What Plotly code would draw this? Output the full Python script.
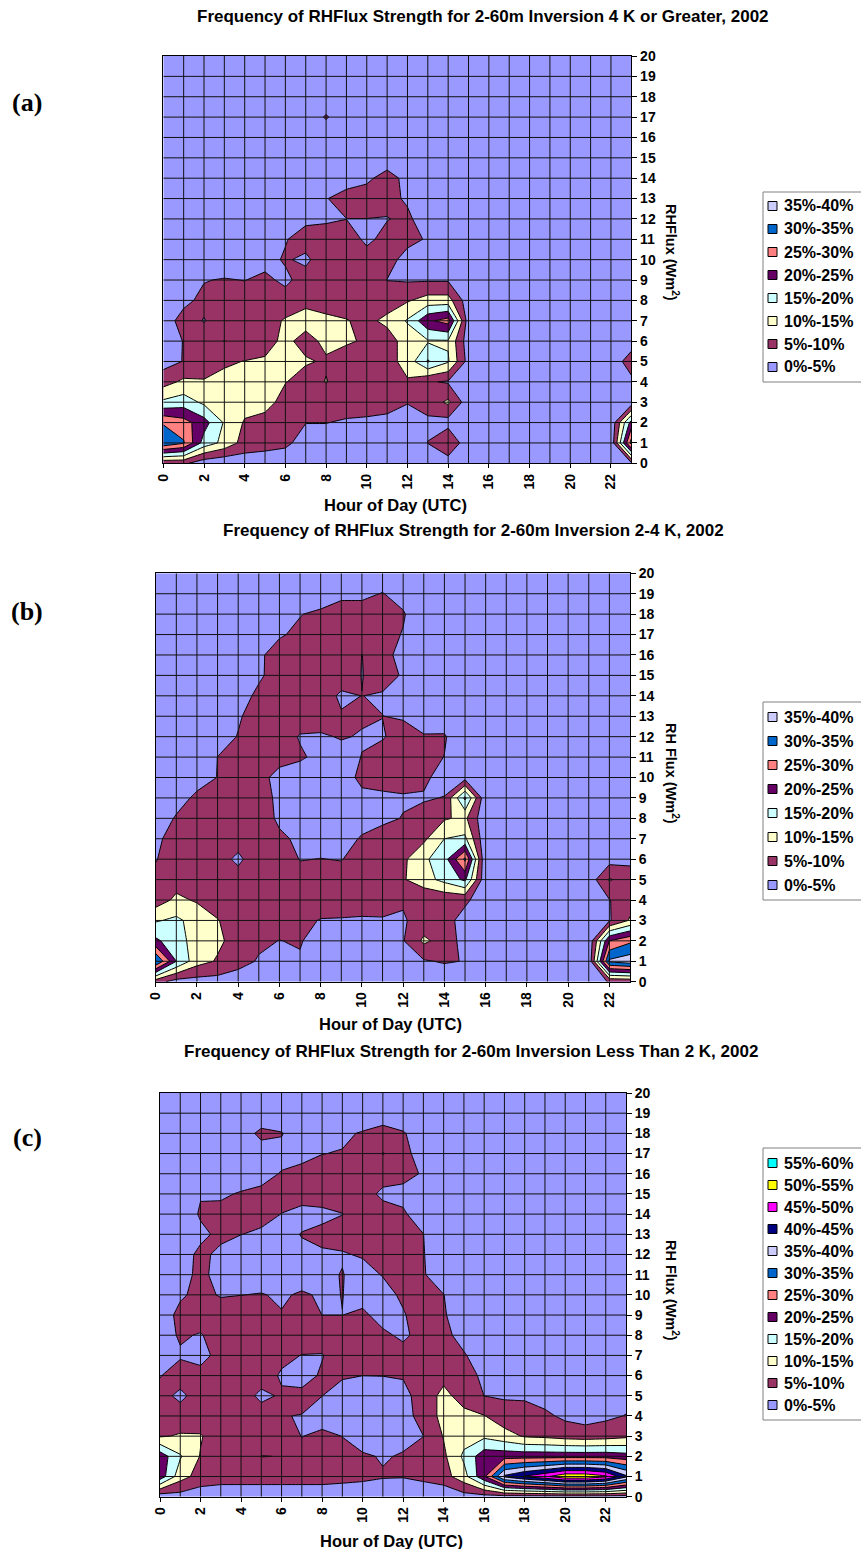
import plotly.graph_objects as go

W, H = 861, 1549

# ---------------- data ----------------
HOURS = [0, 1, 2, 3, 4, 5, 6, 7, 8, 9, 10, 11, 12, 13, 14, 15, 16, 17, 18, 19, 20, 21, 22, 23]
FLUX = [0, 1, 2, 3, 4, 5, 6, 7, 8, 9, 10, 11, 12, 13, 14, 15, 16, 17, 18, 19, 20]
X_TICKS = [0, 2, 4, 6, 8, 10, 12, 14, 16, 18, 20, 22]
Y_TICKS = [0, 1, 2, 3, 4, 5, 6, 7, 8, 9, 10, 11, 12, 13, 14, 15, 16, 17, 18, 19, 20]

BAND_LABELS = ["0%-5%", "5%-10%", "10%-15%", "15%-20%", "20%-25%", "25%-30%",
               "30%-35%", "35%-40%", "40%-45%", "45%-50%", "50%-55%", "55%-60%"]
BAND_COLORS = ["#9999FF", "#993366", "#FFFFCC", "#CCFFFF", "#660066", "#FF8080",
               "#0066CC", "#CCCCFF", "#000080", "#FF00FF", "#FFFF00", "#00FFFF"]
LEVEL_STEP = 5

# Panel (a): frequency (%) per flux row (0..20), per hour (0..23)
Z_A = [
    [6, 6, 2, 1, 2, 2, 2, 1, 1, 1, 1, 1, 1, 1, 2, 1, 1, 1, 1, 1, 1, 1, 1, 4],
    [34, 30.5, 18, 13.5, 8, 7, 6, 3, 3, 2, 2, 2, 2, 5.1, 10.2, 1, 1, 1, 1, 1, 1, 1, 1, 32],
    [29.5, 27, 22, 14.5, 9.5, 8, 7, 5.1, 5.1, 4.5, 4, 3.5, 3, 4, 3, 1, 1, 1, 1, 1, 1, 1, 1, 22],
    [16, 17.5, 14, 12, 12, 12, 8, 7, 7, 7, 7.5, 7, 5.2, 7, 11, 2, 1, 1, 1, 1, 1, 1, 1, 2],
    [8, 11, 10.3, 11, 12, 12, 10.2, 8, 10.2, 8, 8, 8, 9.5, 5.5, 4.5, 3.5, 1, 1, 1, 1, 1, 1, 1, 4],
    [3, 5.2, 8, 9.5, 10.1, 10.5, 12, 10.5, 9.5, 8, 8, 8, 12, 20.5, 15.5, 3, 1, 1, 1, 1, 1, 1, 2.5, 7],
    [2, 5.2, 7, 4.9, 7.5, 8.5, 11, 8.5, 11, 10.5, 9.5, 8, 12, 14.5, 14.5, 2, 1, 1, 1, 1, 1, 1, 1, 3],
    [3, 6.5, 4.8, 7, 7, 8, 10.5, 11.5, 11, 10.2, 9, 11, 15.5, 24, 27, 2, 1, 1, 1, 1, 1, 1, 1, 1],
    [2, 4, 6, 7, 7, 7, 7, 9, 8, 8, 8, 8, 9.5, 12, 12, 2, 1, 1, 1, 1, 1, 1, 1, 1],
    [1, 3, 4.8, 5.3, 4.9, 6, 4, 7, 8, 8, 8, 4.9, 4.5, 4.5, 4.5, 1, 1, 1, 1, 1, 1, 1, 1, 1],
    [1, 1, 1, 2, 2, 3.5, 5.5, 4, 8, 8, 7, 7, 3, 2, 1, 1, 1, 1, 1, 1, 1, 1, 1, 1],
    [1, 1, 1, 1, 1, 2, 4.7, 7, 6, 7.5, 4, 6.5, 6.5, 4.5, 1, 1, 1, 1, 1, 1, 1, 1, 1, 1],
    [1, 1, 1, 1, 1, 1, 2, 4, 4.7, 4.95, 4.95, 4.8, 6, 2, 1, 1, 1, 1, 1, 1, 1, 1, 1, 1],
    [1, 1, 1, 1, 1, 1, 1, 2, 4.7, 7.5, 7.5, 6.5, 4.3, 1, 1, 1, 1, 1, 1, 1, 1, 1, 1, 1],
    [1, 1, 1, 1, 1, 1, 1, 1, 1, 2, 4, 7, 3.5, 1, 1, 1, 1, 1, 1, 1, 1, 1, 1, 1],
    [1, 1, 1, 1, 1, 1, 1, 1, 1, 1, 1, 2, 1, 1, 1, 1, 1, 1, 1, 1, 1, 1, 1, 1],
    [1, 1, 1, 1, 1, 1, 1, 1, 1, 1, 1, 1, 1, 1, 1, 1, 1, 1, 1, 1, 1, 1, 1, 1],
    [1, 1, 1, 1, 1, 1, 1, 1, 5.6, 1, 1, 1, 1, 1, 1, 1, 1, 1, 1, 1, 1, 1, 1, 1],
    [1, 1, 1, 1, 1, 1, 1, 1, 1, 1, 1, 1, 1, 1, 1, 1, 1, 1, 1, 1, 1, 1, 1, 1],
    [1, 1, 1, 1, 1, 1, 1, 1, 1, 1, 1, 1, 1, 1, 1, 1, 1, 1, 1, 1, 1, 1, 1, 1],
    [1, 1, 1, 1, 1, 1, 1, 1, 1, 1, 1, 1, 1, 1, 1, 1, 1, 1, 1, 1, 1, 1, 1, 1],
]

# Panel (b)
Z_B = [
    [7, 3, 3, 3, 2, 1, 1, 1, 1, 1, 1, 1, 1, 1, 1, 1, 1, 1, 1, 1, 1, 1, 5.5, 6],
    [35.5, 20, 12, 9.5, 7, 4.5, 3, 4.3, 1, 1, 1, 1, 2, 4.5, 5.5, 4.8, 1, 1, 1, 1, 1, 1, 36, 38],
    [21, 17, 13, 11, 8, 6, 4.9, 5.5, 2, 2, 2, 2, 4.7, 11, 8, 3, 1, 1, 1, 1, 1, 1, 25, 29],
    [14.5, 16, 13, 10.2, 8, 7, 7, 6, 4.8, 4.7, 4.5, 4.6, 4.5, 7, 7, 3, 1, 1, 1, 1, 1, 1, 4.5, 10.5],
    [7.5, 11, 9.5, 8, 8, 8, 8, 7, 7, 7, 7, 7, 5.5, 5.5, 6, 6, 2, 1, 1, 1, 1, 1, 4.8, 8],
    [6, 8, 8, 4.9, 7, 8, 8, 7, 7, 7, 7, 7, 9.5, 13, 16.5, 21, 1, 1, 1, 1, 1, 2, 10.5, 7],
    [4.8, 7, 8, 7, 4, 8, 8, 4.8, 5.1, 4.8, 7, 8, 9, 14, 18, 31, 0, 1, 1, 1, 1, 1, 3, 4],
    [4, 7, 7, 7, 7, 8, 6, 4, 3, 3, 5.5, 7, 8, 9, 15, 16, 1, 1, 1, 1, 1, 1, 1, 1],
    [2, 5.5, 7, 7, 7, 8, 4, 3, 2, 2, 3, 4, 5.2, 7, 9.5, 11, 1, 1, 1, 1, 1, 1, 1, 1],
    [1, 3, 6, 7, 7, 7, 4, 2, 2, 2, 4, 4, 4.5, 4.5, 5.2, 21, 1, 1, 1, 1, 1, 1, 1, 1],
    [1, 1, 3, 5.1, 7, 6, 4, 3, 3, 3, 6, 7, 7, 6, 3, 3, 1, 1, 1, 1, 1, 1, 1, 1],
    [1, 1, 1, 5.05, 7, 7, 6, 5.5, 4, 3.5, 5.1, 7, 7, 7, 4.9, 1, 1, 1, 1, 1, 1, 1, 1, 1],
    [1, 1, 1, 3, 5.2, 7, 7, 4.7, 4.5, 5.3, 4.7, 4.6, 7, 5.3, 5.5, 1, 1, 1, 1, 1, 1, 1, 1, 1],
    [1, 1, 1, 1, 4.5, 7, 7, 7, 7, 5.5, 5.5, 5.05, 4.5, 3, 2, 1, 1, 1, 1, 1, 1, 1, 1, 1],
    [1, 1, 1, 1, 3, 6, 7, 7, 8, 4, 5.05, 4.5, 2, 1, 1, 1, 1, 1, 1, 1, 1, 1, 1, 1],
    [1, 1, 1, 1, 1, 4.3, 7, 7, 8, 8, 4.85, 7, 4.5, 1, 1, 1, 1, 1, 1, 1, 1, 1, 1, 1],
    [1, 1, 1, 1, 1, 4.2, 7, 7, 8, 8, 4.95, 7, 3, 1, 1, 1, 1, 1, 1, 1, 1, 1, 1, 1],
    [1, 1, 1, 1, 1, 2, 4.5, 6, 4.95, 8, 7, 7, 4.7, 1, 1, 1, 1, 1, 1, 1, 1, 1, 1, 1],
    [1, 1, 1, 1, 1, 1, 2, 4.8, 6, 7, 7, 7, 5.5, 1, 1, 1, 1, 1, 1, 1, 1, 1, 1, 1],
    [1, 1, 1, 1, 1, 1, 1, 1, 2, 4, 4, 5.2, 3, 1, 1, 1, 1, 1, 1, 1, 1, 1, 1, 1],
    [1, 1, 1, 1, 1, 1, 1, 1, 1, 1, 1, 2, 1, 1, 1, 1, 1, 1, 1, 1, 1, 1, 1, 1],
]

# Panel (c)
Z_C = [
    [2, 3, 2, 2, 2, 2, 2, 2, 2, 2, 2, 2, 2, 2, 1, 3, 3, 3, 3, 3, 3, 3, 3, 3],
    [23, 12, 8, 7, 7, 7, 7, 7, 7, 6.5, 6, 5.3, 5.2, 6, 8, 13, 24, 41, 45.5, 49, 54, 54, 51, 41],
    [23, 15.5, 9.7, 9.9, 7, 10.1, 9.9, 6, 7, 6, 5.5, 4.7, 5.3, 7, 9, 16, 23, 23, 23, 23, 23, 23, 23, 22],
    [9.5, 10.5, 10.4, 7, 7, 7, 7, 4.9, 6, 4.95, 3, 3, 4, 4.95, 10.3, 13, 14, 12, 9.5, 9, 8, 7.5, 8, 9],
    [7, 7, 7, 7, 7, 7, 5.1, 4.9, 3, 2, 2, 2, 2, 8, 11, 11, 10.2, 7, 6.5, 6, 4, 3, 4, 5.2],
    [6.5, 4, 7, 7, 7, 4, 5.5, 6, 5.05, 3, 2, 2, 3, 8, 11, 8.5, 4.95, 4.5, 4.5, 3, 2, 2, 2, 3],
    [4.8, 7, 6, 7, 7, 7, 4.5, 3.5, 5.5, 5.5, 5.02, 5.1, 5.5, 7, 9, 6, 4.5, 2, 1, 1, 1, 1, 1, 1],
    [3, 4.5, 4, 6, 7, 7, 6, 4.9, 4.8, 7, 7, 7, 6, 7, 7, 5.5, 2, 1, 1, 1, 1, 1, 1, 1],
    [3, 5.5, 4.7, 7, 7, 7, 7, 7, 7, 7, 7, 5.5, 4.5, 6, 6.5, 3, 1, 1, 1, 1, 1, 1, 1, 1],
    [3, 6, 7, 7, 7, 7, 5.2, 7, 4.98, 4.98, 5.5, 4, 4.5, 8, 5.5, 2, 1, 1, 1, 1, 1, 1, 1, 1],
    [2, 4.5, 6, 4.7, 4.95, 5.2, 4.5, 5.5, 4.5, 5.05, 4, 3, 6, 7, 5.1, 1, 1, 1, 1, 1, 1, 1, 1, 1],
    [1, 3.5, 6, 3.5, 3, 3, 3, 3, 4, 5.2, 3, 5.3, 7, 5.4, 2, 1, 1, 1, 1, 1, 1, 1, 1, 1],
    [1, 3, 6, 4, 3, 3, 3, 4, 4.5, 4.6, 5.5, 7, 7, 5.2, 2, 1, 1, 1, 1, 1, 1, 1, 1, 1],
    [1, 2, 4, 6, 5.05, 4.5, 3.5, 5.2, 6, 7, 7, 7, 6, 5.05, 1, 1, 1, 1, 1, 1, 1, 1, 1, 1],
    [1, 2, 5.5, 6, 7, 6, 4.95, 3.5, 4, 4.9, 7, 7, 5.5, 3, 1, 1, 1, 1, 1, 1, 1, 1, 1, 1],
    [1, 1, 4.7, 4.5, 5.3, 6, 6, 7, 7, 7, 7, 4, 4, 1, 1, 1, 1, 1, 1, 1, 1, 1, 1, 1],
    [1, 1, 1, 2, 3, 3.5, 5.3, 7, 7, 7, 7, 7, 6, 4.7, 1, 1, 1, 1, 1, 1, 1, 1, 1, 1],
    [1, 1, 1, 1, 1, 3, 3.5, 3, 4.9, 5.3, 7, 4.9, 6, 3.5, 1, 1, 1, 1, 1, 1, 1, 1, 1, 1],
    [1, 1, 1, 1, 3, 6, 5.3, 2, 1, 4, 5.5, 7, 5.5, 2, 1, 1, 1, 1, 1, 1, 1, 1, 1, 1],
    [1, 1, 1, 1, 1, 2, 1, 1, 1, 1, 1, 2, 1, 1, 1, 1, 1, 1, 1, 1, 1, 1, 1, 1],
    [1, 1, 1, 1, 1, 1, 1, 1, 1, 1, 1, 1, 1, 1, 1, 1, 1, 1, 1, 1, 1, 1, 1, 1],
]

TITLES = [
    "Frequency of RHFlux Strength for 2-60m Inversion 4 K or Greater, 2002",
    "Frequency of RHFlux Strength for 2-60m Inversion 2-4 K, 2002",
    "Frequency of RHFlux Strength for 2-60m Inversion Less Than 2 K, 2002",
]
Y_TITLES = ["RHFlux (Wm<sup>2</sup>)", "RH Flux (Wm<sup>2</sup>)", "RH Flux (Wm<sup>2</sup>)"]
X_TITLE = "Hour of Day (UTC)"
PANEL_TAGS = ["(a)", "(b)", "(c)"]
N_BANDS = [8, 8, 12]
Z_ALL = [Z_A, Z_B, Z_C]

for zz in Z_ALL:
    assert len(zz) == len(FLUX)
    for row in zz:
        assert len(row) == len(HOURS)

# ---------------- layout geometry (pixels) ----------------
GEOM = [
    dict(l=163.3, r=631.3, t=56.0, b=463.3, tx=483, ty=17, tag_y=103, xt_y=505, yt_y=252,
         leg_top=192, leg_first=206, leg_step=23),
    dict(l=155.7, r=630.0, t=573.3, b=981.7, tx=473, ty=531, tag_y=611, xt_y=1024, yt_y=773,
         leg_top=702, leg_first=717, leg_step=24),
    dict(l=160.0, r=626.0, t=1093.0, b=1496.7, tx=471, ty=1051, tag_y=1137, xt_y=1541, yt_y=1290,
         leg_top=1148, leg_first=1163, leg_step=22),
]

FONT = "Liberation Sans, Arial, sans-serif"
SERIF = "Liberation Serif, Times New Roman, serif"


def pxx(p):
    return p / W


def pxy(p):
    return 1 - p / H


fig = go.Figure()
shapes = []
annotations = []

for i, (zz, g) in enumerate(zip(Z_ALL, GEOM)):
    n = N_BANDS[i]
    suffix = "" if i == 0 else str(i + 1)
    xa, ya = "x" + suffix, "y" + suffix
    cscale = [[k / (n - 1), BAND_COLORS[k]] for k in range(n)]
    fig.add_trace(go.Contour(
        z=zz, x=HOURS, y=FLUX, xaxis=xa, yaxis=ya,
        autocontour=False,
        contours=dict(start=LEVEL_STEP, end=LEVEL_STEP * (n - 1), size=LEVEL_STEP,
                      coloring="fill", showlines=True),
        colorscale=cscale, showscale=False,
        line=dict(color="black", width=1, smoothing=0),
        hoverinfo="skip",
    ))

    axis_common = dict(showline=True, linecolor="black", linewidth=1, mirror=True,
                       showgrid=False, zeroline=False, ticks="outside", tickcolor="black",
                       tickfont=dict(family=FONT, size=14, color="black", weight="bold"))
    fig.update_layout(**{
        "xaxis" + suffix: dict(domain=[pxx(g["l"]), pxx(g["r"])], range=[0, 23], anchor=ya,
                               tickmode="array", tickvals=X_TICKS, tickangle=-90, ticklen=4,
                               **axis_common),
        "yaxis" + suffix: dict(domain=[pxy(g["b"]), pxy(g["t"])], range=[0, 20], anchor=xa,
                               side="right", tickmode="array", tickvals=Y_TICKS, ticklen=5,
                               **axis_common),
    })

    # grid lines drawn above the filled contours (as in the original)
    for h in HOURS[1:-1]:
        shapes.append(dict(type="line", xref=xa, yref=ya, x0=h, x1=h, y0=FLUX[0], y1=FLUX[-1],
                           line=dict(color="#111111", width=1), layer="above"))
    for f in FLUX[1:-1]:
        shapes.append(dict(type="line", xref=xa, yref=ya, x0=HOURS[0], x1=HOURS[-1], y0=f, y1=f,
                           line=dict(color="#111111", width=1), layer="above"))

    # texts
    annotations.append(dict(text=TITLES[i], x=pxx(g["tx"]), y=pxy(g["ty"]), xref="paper", yref="paper",
                            showarrow=False, xanchor="center", yanchor="middle",
                            font=dict(family=FONT, size=17, color="black", weight="bold")))
    annotations.append(dict(text=PANEL_TAGS[i], x=pxx(27), y=pxy(g["tag_y"]), xref="paper", yref="paper",
                            showarrow=False, xanchor="center", yanchor="middle",
                            font=dict(family=SERIF, size=26, color="black", weight="bold")))
    annotations.append(dict(text=X_TITLE, x=(pxx(g["l"]) + pxx(g["r"])) / 2 - pxx(2), y=pxy(g["xt_y"]),
                            xref="paper", yref="paper", showarrow=False, xanchor="center",
                            yanchor="middle",
                            font=dict(family=FONT, size=16.5, color="black", weight="bold")))
    annotations.append(dict(text=Y_TITLES[i], x=pxx(672), y=pxy(g["yt_y"]), xref="paper", yref="paper",
                            showarrow=False, xanchor="center", yanchor="middle", textangle=90,
                            font=dict(family=FONT, size=14.5, color="black", weight="bold")))

    # legend (box, swatches, labels), highest band first
    items = list(range(n))[::-1]
    top = g["leg_top"]
    bottom = g["leg_first"] + g["leg_step"] * (n - 1) + 15
    shapes.append(dict(type="rect", xref="paper", yref="paper", x0=pxx(763), x1=1.05,
                       y0=pxy(bottom), y1=pxy(top), line=dict(color="#808080", width=1),
                       fillcolor="white", layer="above"))
    for k, band in enumerate(items):
        cy = g["leg_first"] + g["leg_step"] * k
        shapes.append(dict(type="rect", xref="paper", yref="paper", x0=pxx(768), x1=pxx(777),
                           y0=pxy(cy + 4.5), y1=pxy(cy - 4.5), fillcolor=BAND_COLORS[band],
                           line=dict(color="black", width=1), layer="above"))
        annotations.append(dict(text=BAND_LABELS[band], x=pxx(782), y=pxy(cy), xref="paper",
                                yref="paper", showarrow=False, xanchor="left", yanchor="middle",
                                font=dict(family=FONT, size=16, color="black", weight="bold")))

fig.update_layout(
    width=W, height=H,
    margin=dict(l=0, r=0, t=0, b=0, autoexpand=False),
    paper_bgcolor="white", plot_bgcolor="white",
    showlegend=False,
    shapes=shapes, annotations=annotations,
)

fig.write_html("out.html")
